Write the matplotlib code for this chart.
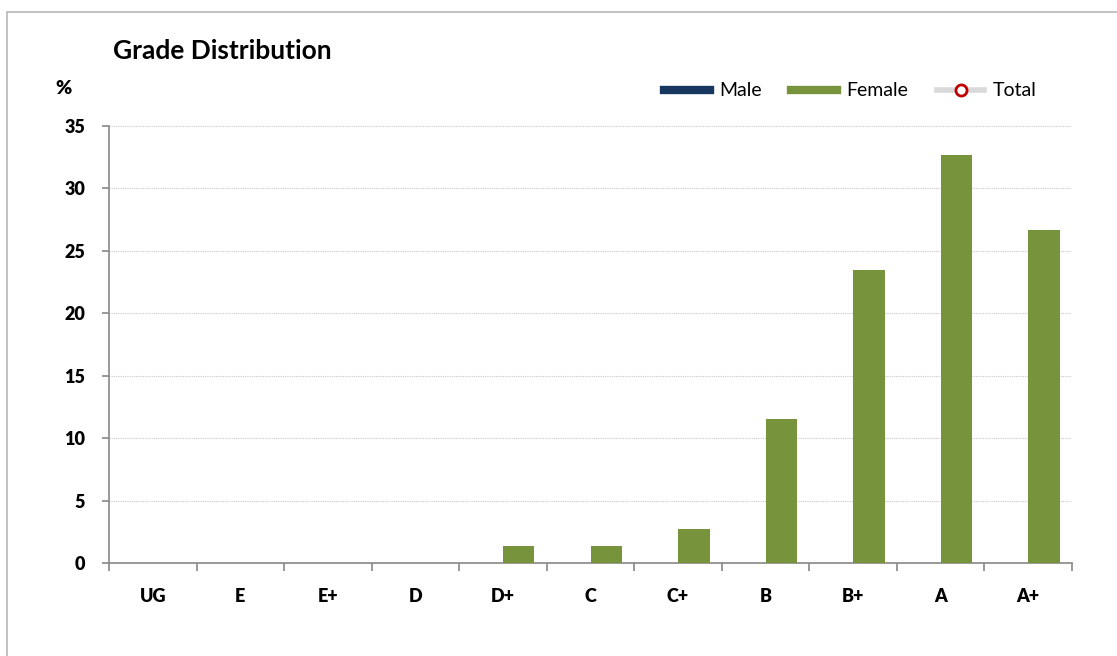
import matplotlib.pyplot as plt
import numpy as np
from matplotlib.lines import Line2D
from matplotlib.patches import Rectangle

grades = ['UG', 'E', 'E+', 'D', 'D+', 'C', 'C+', 'B', 'B+', 'A', 'A+']
male = [0, 0, 0, 0, 0, 0, 0, 0, 0, 0, 0]
female = [0, 0, 0, 0, 1.35, 1.35, 2.7, 11.5, 23.5, 32.7, 26.7]
yticks = [0, 5, 10, 15, 20, 25, 30, 35]

plt.rcParams['font.family'] = ['Lato', 'DejaVu Sans']

fig = plt.figure(figsize=(11.17, 6.56), dpi=100)
fig.patches.append(Rectangle((7/1117, -0.1), 1.2, 1 - 12/656 + 0.1, transform=fig.transFigure,
	fill=False, edgecolor='#b8b8b8', linewidth=1.2, zorder=0))

ax = fig.add_axes([109/1117, 1 - 563/656, (1072 - 109)/1117, (563 - 126)/656])
x = np.arange(len(grades))
w = 0.36
ax.bar(x - w/2, male, w, color='#17375e', linewidth=0, zorder=3)
ax.bar(x + w/2, female, w, color='#77933c', linewidth=0, zorder=3)

ax.set_xlim(-0.5, len(grades) - 0.5)
ax.set_ylim(0, 35)
ax.set_yticks(yticks)
ax.set_yticklabels([str(v) for v in yticks], fontsize=13, fontweight='heavy')
ax.set_xticks(x)
ax.set_xticklabels(grades, fontsize=13, fontweight='heavy')
ax.set_xticks(np.arange(len(grades) + 1) - 0.5, minor=True)
ax.tick_params(axis='x', which='major', length=0, pad=18)
ax.tick_params(axis='x', which='minor', length=6, color='#888888', width=1.2)
ax.tick_params(axis='y', length=5, color='#888888', width=1.2, pad=12)
for s in ['top', 'right']:
	ax.spines[s].set_visible(False)
for s in ['left', 'bottom']:
	ax.spines[s].set_color('#888888')
	ax.spines[s].set_linewidth(1.2)
ax.yaxis.grid(True, linestyle=(0, (1, 1)), color='#c8c8c8', linewidth=0.8)
ax.set_axisbelow(True)

fig.text(113/1117, 1 - 51/656, 'Grade Distribution', fontsize=19, fontweight='bold', va='center', ha='left')
fig.text(55/1117, 1 - 88/656, '%', fontsize=14, fontweight='heavy', va='center', ha='left')

handles = [
	Line2D([0], [0], color='#17375e', linewidth=6),
	Line2D([0], [0], color='#77933c', linewidth=6),
	Line2D([0], [0], color='#d9d9d9', linewidth=4, marker='o', markersize=8,
		markerfacecolor='white', markeredgecolor='#c00000', markeredgewidth=2),
]
fig.legend(handles, ['Male', 'Female', 'Total'], loc='center', bbox_to_anchor=(850/1117, 1 - 91/656),
	ncol=3, frameon=False, fontsize=14, handlelength=2.4, columnspacing=1.5, handletextpad=0.45)

fig.savefig('out.png', dpi=100)
